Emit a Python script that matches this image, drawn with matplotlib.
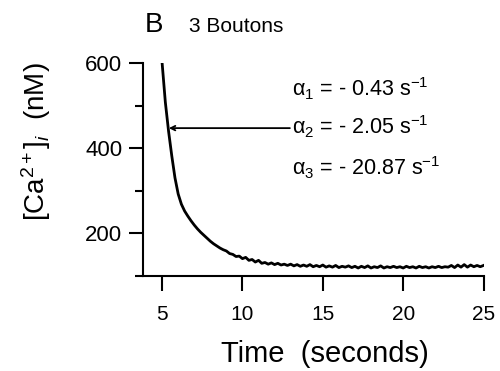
import numpy as np
import matplotlib
matplotlib.use("Agg")
import matplotlib.pyplot as plt

plt.rcParams['font.family'] = ['Liberation Sans', 'DejaVu Sans']
plt.rcParams['mathtext.fontset'] = 'custom'
plt.rcParams['mathtext.rm'] = 'Liberation Sans'
plt.rcParams['mathtext.it'] = 'Liberation Sans:italic'

calcio = [600, 508, 440, 382, 330, 292, 268, 252, 240, 229,
          219, 210, 202, 195, 188, 181, 175, 170, 165, 161,
          158, 152, 150, 145, 146, 140, 143, 136, 138, 132,
          136, 129, 131, 127, 130, 126, 129, 125, 127, 124,
          127, 123, 126, 122, 125, 122, 126, 121, 124, 121,
          125, 120, 123, 120, 124, 119, 122, 120, 123, 119,
          122, 118, 122, 119, 123, 118, 121, 119, 123, 118,
          121, 119, 122, 119, 121, 118, 122, 119, 121, 118,
          122, 119, 121, 118, 121, 119, 122, 119, 121, 120,
          124, 119, 125, 120, 126, 120, 125, 121, 124, 121,
          124]
tiempo = np.linspace(5, 25, len(calcio))

xticks = [5, 10, 15, 20, 25]
yticks = [200, 400, 600]
yminor = [100, 300, 500]
constantes = [r'α$_1$ = - 0.43 s$^{-1}$',
              r'α$_2$ = - 2.05 s$^{-1}$',
              r'α$_3$ = - 20.87 s$^{-1}$']

fig = plt.figure(figsize=(5, 3.71), dpi=100)
ax = fig.add_axes([0.286, 0.257, 0.681, 0.573])
ax.plot(tiempo, calcio, color='black', lw=2)

ax.set_xlim(3.81, 25)
ax.set_ylim(100, 600)
ax.set_xticks(xticks)
ax.set_yticks(yticks)
ax.set_yticks(yminor, minor=True)
ax.spines['top'].set_visible(False)
ax.spines['right'].set_visible(False)
ax.spines['left'].set_linewidth(1.5)
ax.spines['bottom'].set_linewidth(1.5)
ax.tick_params(axis='y', which='major', direction='out', length=10, width=1.5)
ax.tick_params(axis='x', which='major', direction='out', length=11, width=1.5)
ax.tick_params(axis='y', which='minor', direction='out', length=5.5, width=1.5)
ax.tick_params(axis='y', labelsize=16, pad=5)
ax.tick_params(axis='x', labelsize=15, pad=10)

ax.set_xlabel('Time  (seconds)', fontsize=21)
ax.xaxis.set_label_coords(0.535, -0.305)
ax.set_ylabel(r'[Ca$^{2+}$]$_i$  (nM)', fontsize=20)
ax.yaxis.set_label_coords(-0.265, 0.63)

fig.text(145 / 500, 1 - 32 / 371, 'B', fontsize=20, va='baseline')
fig.text(189 / 500, 1 - 32 / 371, '3 Boutons', fontsize=15, va='baseline')

ybase = [96, 134, 175]
for txt, yb in zip(constantes, ybase):
    fig.text(292 / 500, 1 - yb / 371, txt, fontsize=15.5, va='baseline')

ax.annotate('', xy=(5.42, 447), xytext=(12.95, 447),
            arrowprops=dict(arrowstyle='->', color='black', lw=1.3,
                            shrinkA=0, shrinkB=0, mutation_scale=8))

fig.savefig('out.png', dpi=100)
